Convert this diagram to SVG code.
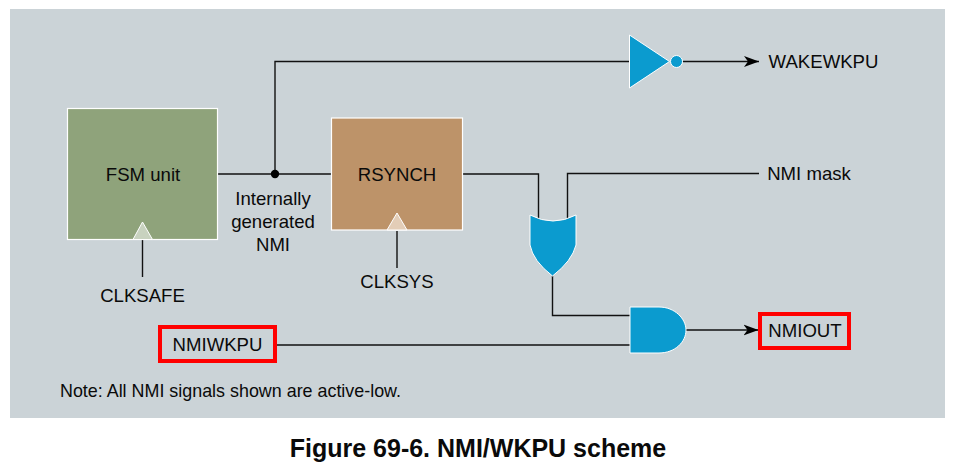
<svg xmlns="http://www.w3.org/2000/svg" width="955" height="467" viewBox="0 0 955 467">
<style>
text{font-family:"Liberation Sans",Arial,sans-serif;font-size:18.600px;fill:#0a0a0a;text-anchor:middle}
.w{fill:none;stroke:#111;stroke-width:1.400}
.g{fill:#0b9bcf;stroke:#fff;stroke-width:1}
.r{fill:none;stroke:#f00;stroke-width:4}
.b{stroke:#fff;stroke-width:1.200}
.t{stroke:#fff;stroke-width:1}
</style>
<defs><marker id="a" markerUnits="userSpaceOnUse" markerWidth="16" markerHeight="12" refX="15" refY="6" orient="auto"><path d="M0,0.500 L15,6 L0,11.500 L4,6Z" fill="#000"/></marker></defs>
<rect width="955" height="467" fill="#fff"/>
<rect x="10" y="9" width="935" height="409" fill="#cbd3d7"/>
<g id="connectors">
<path class="w" d="M217.500,174H331"/>
<path class="w" d="M275,174V61.500H629"/>
<path class="w" d="M683,61.500H759" marker-end="url(#a)"/>
<path class="w" d="M462.500,174H538.500V220"/>
<path class="w" d="M759,173.500H567.500V220"/>
<path class="w" d="M552.500,276V315.500H630"/>
<path class="w" d="M275,345H630"/>
<path class="w" d="M686,330H758.500" marker-end="url(#a)"/>
<path class="w" d="M142.500,240V277"/>
<path class="w" d="M397,231V268"/>
<circle cx="275" cy="174" r="4.200" fill="#000"/>
</g>
<g id="fsm"><rect class="b" x="67.500" y="108.500" width="150" height="131" fill="#8fa37b"/><path class="t" d="M142.500,222L133,239.500H152.500Z" fill="#c8d2bf"/><text x="143" y="180.500">FSM unit</text></g>
<g id="clksafe"><text x="142.500" y="301.500">CLKSAFE</text></g>
<g id="rsynch"><rect class="b" x="331.500" y="118" width="131" height="112" fill="#bd9369"/><path class="t" d="M397,213L387,230H407Z" fill="#e3cdb7"/><text x="397" y="180.500">RSYNCH</text></g>
<g id="clksys"><text x="397" y="287.500">CLKSYS</text></g>
<g id="nmi-label"><text x="273" y="205">Internally</text><text x="273" y="228">generated</text><text x="273" y="251">NMI</text></g>
<g id="inverter"><path class="g" d="M629.500,35L669.500,61.500L629.500,88Z"/><circle class="g" cx="676.500" cy="61.500" r="6"/></g>
<g id="wakewkpu"><text x="823.500" y="67.500">WAKEWKPU</text></g>
<g id="nmimask"><text x="809" y="180">NMI mask</text></g>
<g id="or-gate"><path class="g" d="M530,215Q553,227 576,215V245Q572,261 552.500,276Q533,261 530,245Z"/></g>
<g id="and-gate"><path class="g" d="M630,307H659C675,307 686,319 686,330C686,342 675,353 659,353H630Z"/></g>
<g id="nmiout"><rect class="r" x="760" y="314" width="89" height="34"/><text x="805" y="336.500">NMIOUT</text></g>
<g id="nmiwkpu"><rect class="r" x="160" y="327" width="115" height="34"/><text x="217.500" y="350.500">NMIWKPU</text></g>
<g id="note"><text x="230.500" y="397" style="font-size:17.900px">Note: All NMI signals shown are active-low.</text></g>
<g id="caption"><text x="478" y="456.500" style="font-size:25px;font-weight:bold">Figure 69-6. NMI/WKPU scheme</text></g>
</svg>
